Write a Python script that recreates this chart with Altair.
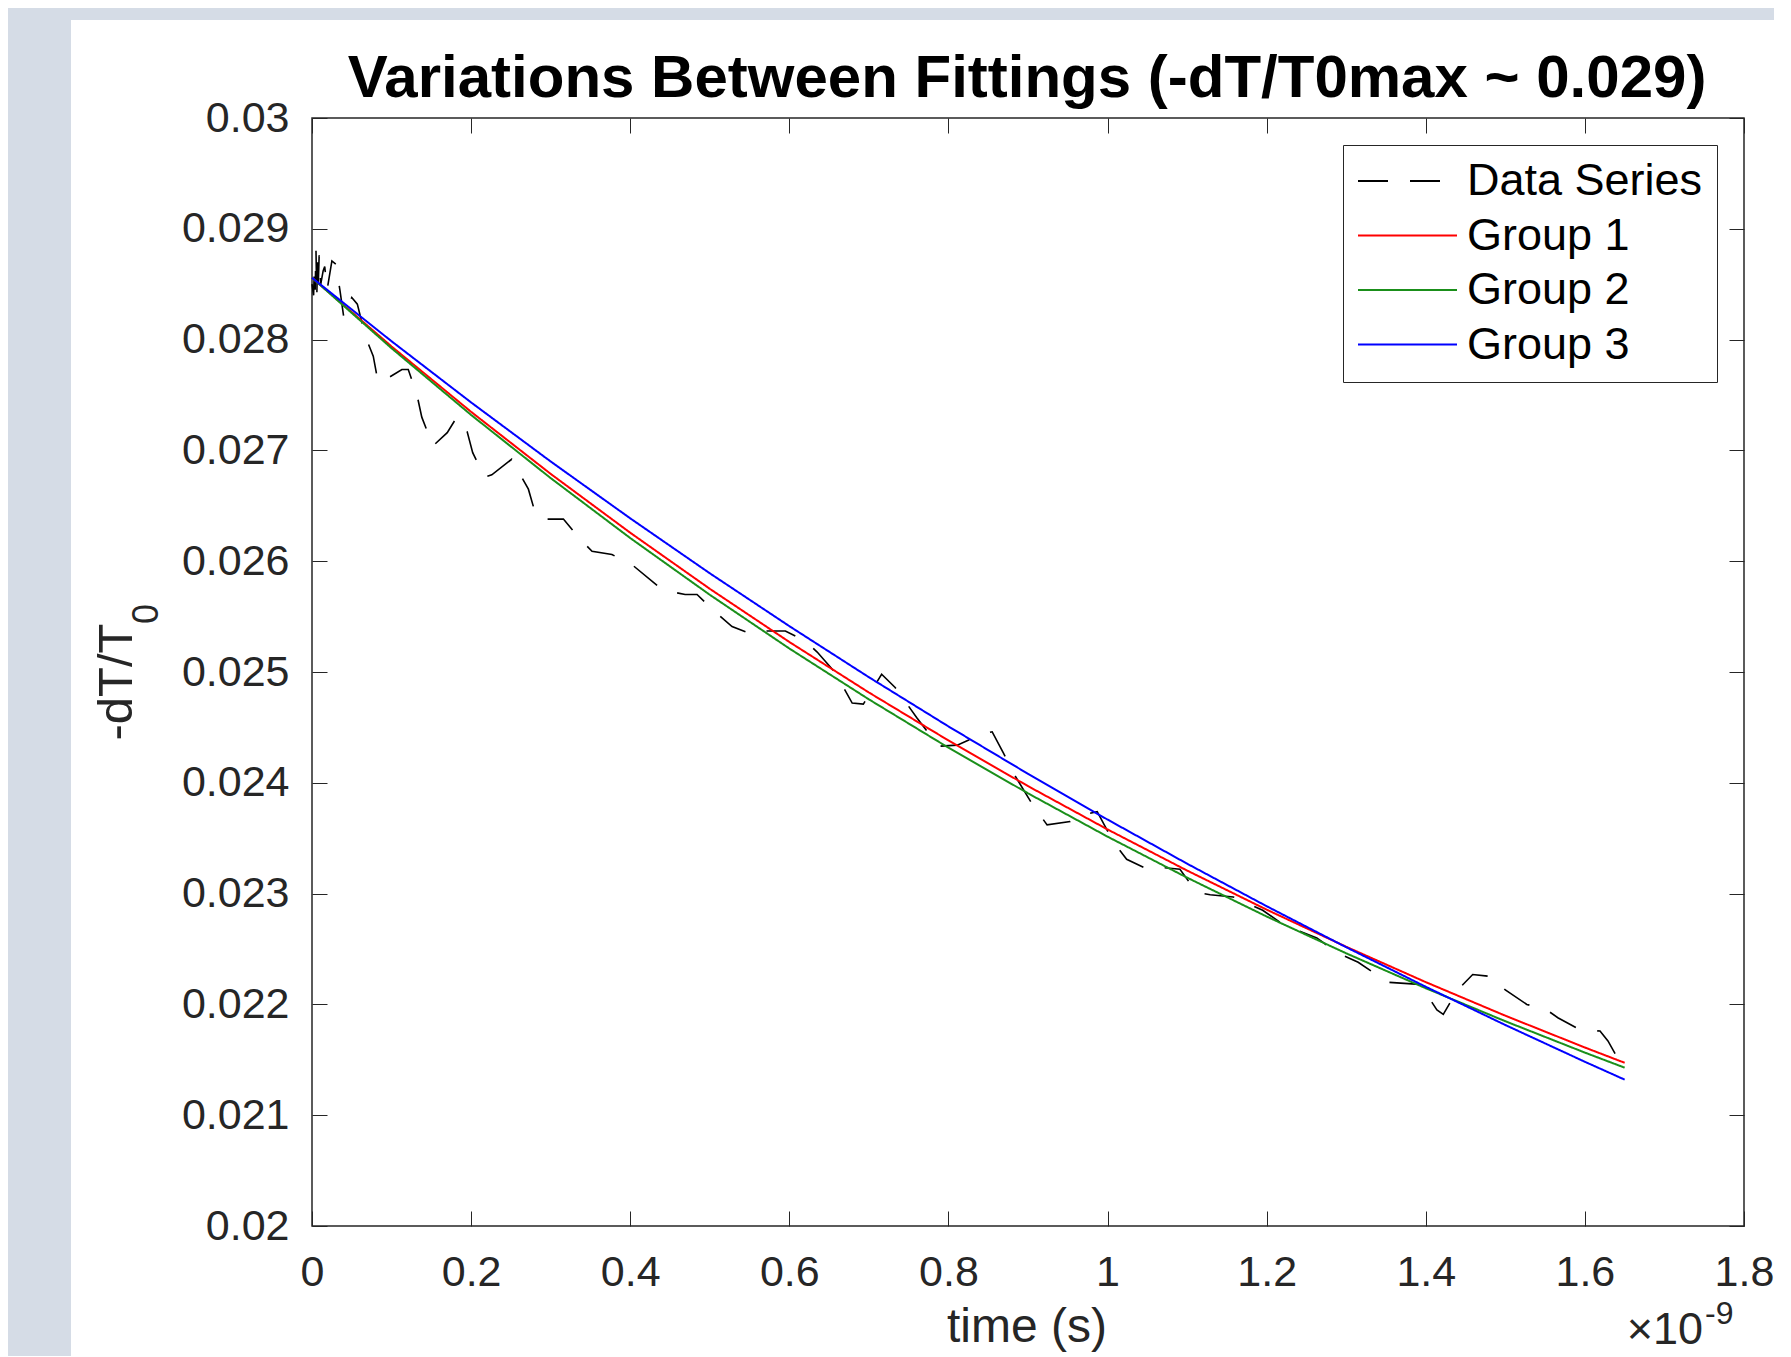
import altair as alt
import pandas as pd

# ---------------- data ----------------
series_names = ["Data Series", "Group 1", "Group 2", "Group 3"]
series_colors = ["#000000", "#ff0000", "#1a8f1a", "#0000ff"]
series_dashes = [[30, 22], [1, 0], [1, 0], [1, 0]]

# measured data series (time in units of 1e-9 s)
data_t = [0.000, 0.002, 0.003, 0.004, 0.005, 0.006, 0.007, 0.008, 0.009, 0.011,
          0.014, 0.016, 0.019, 0.025, 0.030, 0.035, 0.040, 0.050, 0.057, 0.067,
          0.077, 0.083, 0.088, 0.113, 0.121, 0.132, 0.138, 0.152, 0.170, 0.182,
          0.195, 0.202, 0.217, 0.226, 0.251, 0.272, 0.280, 0.287, 0.316, 0.337,
          0.352, 0.377, 0.402, 0.441, 0.469, 0.484, 0.504, 0.528, 0.553, 0.567,
          0.595, 0.620, 0.635, 0.657, 0.679, 0.693, 0.716, 0.733, 0.760, 0.779,
          0.787, 0.811, 0.842, 0.855, 0.869, 0.884, 0.906, 0.924, 0.953, 0.962,
          0.987, 1.007, 1.024, 1.050, 1.063, 1.091, 1.112, 1.129, 1.158, 1.179,
          1.195, 1.221, 1.263, 1.288, 1.315, 1.352, 1.393, 1.414, 1.422, 1.440,
          1.459, 1.484, 1.500, 1.527, 1.552, 1.566, 1.594, 1.619, 1.629, 1.644,
          1.653]
data_y = [0.02850, 0.02840, 0.02866, 0.02845, 0.02881, 0.02838, 0.02872, 0.02852, 0.02876, 0.02850,
          0.02862, 0.02866, 0.02845, 0.02871, 0.02868, 0.02845, 0.02820, 0.02838, 0.02832, 0.02803,
          0.02785, 0.02762, 0.02762, 0.02773, 0.02773, 0.02750, 0.02730, 0.02704, 0.02716, 0.02730,
          0.02717, 0.02698, 0.02676, 0.02678, 0.02692, 0.02665, 0.02645, 0.02638, 0.02638, 0.02620,
          0.02609, 0.02606, 0.02597, 0.02574, 0.02570, 0.02570, 0.02556, 0.02541, 0.02534, 0.02537,
          0.02537, 0.02528, 0.02518, 0.02500, 0.02472, 0.02471, 0.02498, 0.02486, 0.02459, 0.02441,
          0.02433, 0.02434, 0.02444, 0.02446, 0.02427, 0.02406, 0.02380, 0.02362, 0.02365, 0.02370,
          0.02374, 0.02347, 0.02331, 0.02322, 0.02324, 0.02322, 0.02301, 0.02299, 0.02297, 0.02290,
          0.02285, 0.02272, 0.02260, 0.02247, 0.02238, 0.02220, 0.02218, 0.02195, 0.02191, 0.02213,
          0.02227, 0.02225, 0.02213, 0.02200, 0.02195, 0.02188, 0.02177, 0.02176, 0.02167, 0.02148,
          0.02141]

# fitted curves, read at regular times
fit_t = [0.0, 0.1, 0.2, 0.3, 0.4, 0.5, 0.6, 0.7, 0.8, 0.9,
         1.0, 1.1, 1.2, 1.3, 1.4, 1.5, 1.6, 1.65]
group1 = [0.028558, 0.027938, 0.027348, 0.026788, 0.026257, 0.025751, 0.025271, 0.024815, 0.024382, 0.023970,
          0.023579, 0.023208, 0.022855, 0.022520, 0.022201, 0.021898, 0.021611, 0.021473]
group2 = [0.028558, 0.027922, 0.027320, 0.026750, 0.026209, 0.025697, 0.025212, 0.024753, 0.024317, 0.023905,
          0.023514, 0.023144, 0.022793, 0.022461, 0.022146, 0.021848, 0.021565, 0.021429]
group3 = [0.028558, 0.027985, 0.027433, 0.026900, 0.026387, 0.025891, 0.025414, 0.024953, 0.024509, 0.024081,
          0.023668, 0.023270, 0.022886, 0.022516, 0.022159, 0.021814, 0.021482, 0.021321]

x_ticks = [0, 0.2, 0.4, 0.6, 0.8, 1, 1.2, 1.4, 1.6, 1.8]
y_ticks = [0.02, 0.021, 0.022, 0.023, 0.024, 0.025, 0.026, 0.027, 0.028, 0.029, 0.03]

title_text = ["Variations Between Fittings (-dT/T0max ~ 0.029)"]
x_title = ["time (s)"]
y_title_main = ["-dT/T"]
y_title_sub = ["0"]
exp_base = ["\u00d710"]
exp_power = ["-9"]

# ---------------- build table ----------------
assert len(data_t) == len(data_y)
rows = []
for i, (t, v) in enumerate(zip(data_t, data_y)):
    rows.append({"t": t, "v": v, "series": series_names[0], "i": i})
for name, vals in zip(series_names[1:], [group1, group2, group3]):
    for i, (t, v) in enumerate(zip(fit_t, vals)):
        rows.append({"t": t, "v": v, "series": name, "i": i})
df = pd.DataFrame(rows)
df_data = df[df.series == series_names[0]]
df_fit = df[df.series != series_names[0]]

W, H = 1432, 1108
PAD = {"left": 304, "top": 110, "right": 30, "bottom": 130}
FONT = "Liberation Sans"
INK = "#262626"
BG = "#d5dce6"

xs = alt.Scale(domain=[x_ticks[0], x_ticks[-1]], nice=False, zero=False)
ys = alt.Scale(domain=[y_ticks[0], y_ticks[-1]], nice=False, zero=False)

legend = alt.Legend(title=None, orient="none", legendX=1031, legendY=27,
                    symbolType="stroke", symbolSize=9801, symbolStrokeWidth=2,
                    clipHeight=44, labelFont=FONT, labelFontSize=45, labelColor="black",
                    labelLimit=600, labelOffset=9, rowPadding=9.5, padding=14,
                    fillColor="white", strokeColor=INK, direction="vertical")
color = alt.Color("series:N", scale=alt.Scale(domain=series_names, range=series_colors), legend=legend)
dash = alt.StrokeDash("series:N", scale=alt.Scale(domain=series_names, range=series_dashes), legend=legend)

lab_common = dict(grid=False, domain=False, title=None, labelFont=FONT, labelFontSize=43,
                  labelColor=INK, labelFlush=False, labelOverlap=False, format="~g", zindex=1)
tick_common = dict(grid=False, domain=False, title=None, labels=False, ticks=True,
                   tickSize=15, offset=-15, tickColor=INK, tickWidth=1, zindex=1)

ax_x_lab = alt.Axis(orient="bottom", values=x_ticks, ticks=False, labelPadding=25, **lab_common)
ax_y_lab = alt.Axis(orient="left", values=y_ticks, ticks=False, labelPadding=23, **lab_common)
ax_x_bot = alt.Axis(orient="bottom", values=x_ticks, **tick_common)
ax_y_left = alt.Axis(orient="left", values=y_ticks, **tick_common)
ax_x_top = alt.Axis(orient="top", values=x_ticks, **tick_common)
ax_y_right = alt.Axis(orient="right", values=y_ticks, **tick_common)

one = alt.Data(values=[{"k": 1}])

# grey window strips outside the white figure panel (decoration)
strip_left = alt.Chart(one).mark_rect(color=BG).encode(
    x=alt.value(-PAD["left"]), x2=alt.value(-241),
    y=alt.value(-PAD["top"]), y2=alt.value(H + PAD["bottom"]))
strip_top = alt.Chart(one).mark_rect(color=BG).encode(
    x=alt.value(-PAD["left"]), x2=alt.value(W + PAD["right"]),
    y=alt.value(-PAD["top"]), y2=alt.value(-98))

data_line = alt.Chart(df_data).mark_line(strokeWidth=1.6).encode(
    x=alt.X("t:Q", scale=xs, axis=ax_x_lab),
    y=alt.Y("v:Q", scale=ys, axis=ax_y_lab),
    color=color, strokeDash=dash, order="i:Q")

fit_line = alt.Chart(df_fit).mark_line(strokeWidth=2).encode(
    x=alt.X("t:Q", scale=xs, axis=ax_x_bot),
    y=alt.Y("v:Q", scale=ys, axis=ax_y_left),
    color=color, strokeDash=dash, order="i:Q")

ghost = alt.Chart(df_fit).mark_line(opacity=0).encode(
    x=alt.X("t:Q", scale=xs, axis=ax_x_top),
    y=alt.Y("v:Q", scale=ys, axis=ax_y_right),
    detail="series:N")


def text_layer(txt, x, y, size, **kw):
    return alt.Chart(one).mark_text(text=txt, font=FONT, fontSize=size, **kw).encode(
        x=alt.value(x), y=alt.value(y))


title_layer = text_layer(title_text[0], W / 2 - 1, -21, 60, fontWeight="bold",
                         align="center", baseline="alphabetic", color="black")
xtitle_layer = text_layer(x_title[0], W / 2 - 1, 1224, 48, align="center",
                          baseline="alphabetic", color=INK)
ytitle_layer = text_layer(y_title_main[0], -180, 564, 49, angle=270, align="center",
                          baseline="alphabetic", color=INK)
ysub_layer = text_layer(y_title_sub[0], -154, 496, 36, angle=270, align="center",
                        baseline="alphabetic", color=INK)
exp_base_layer = text_layer(exp_base[0], 1391, 1226, 45, align="right",
                            baseline="alphabetic", color=INK)
exp_pow_layer = text_layer(exp_power[0], 1393, 1206, 32, align="left",
                           baseline="alphabetic", color=INK)

chart = alt.layer(
    strip_left, strip_top, data_line, fit_line, ghost,
    title_layer, xtitle_layer, ytitle_layer, ysub_layer, exp_base_layer, exp_pow_layer
).resolve_axis(
    x="independent", y="independent"
).properties(
    width=W, height=H,
    autosize=alt.AutoSizeParams(type="none"),
    padding=PAD,
).configure(
    background="white"
).configure_view(
    fill="white", stroke=INK, strokeWidth=1.5
)

chart.save("out.html", embed_options={"renderer": "svg", "actions": False})
